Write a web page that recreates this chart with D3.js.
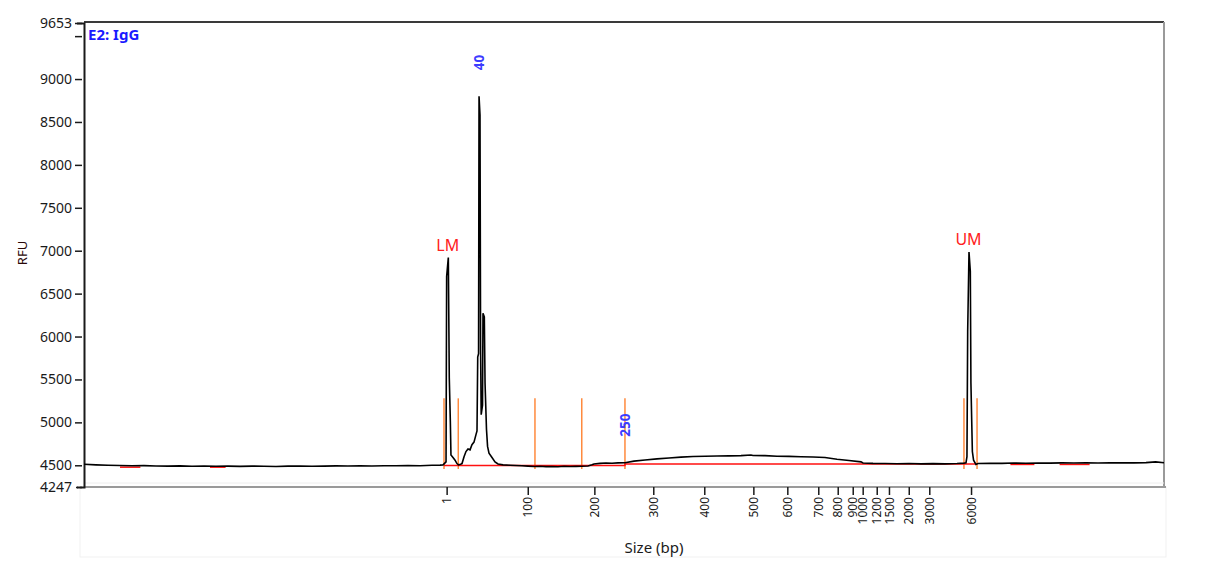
<!DOCTYPE html>
<html>
<head>
<meta charset="utf-8">
<script src="https://cdn.jsdelivr.net/npm/d3@7"></script>
<style>
  html, body { margin: 0; padding: 0; background: #fff; }
  svg text { font-family: "Noto Sans", "DejaVu Sans", sans-serif; }
</style>
</head>
<body>
<svg id="chart" width="1218" height="588"></svg>
<script>
// ---------------- DATA ----------------
const sampleTitle = "E2: IgG";

// migration time (s) of the trace samples and their fluorescence (RFU)
const traceTime = [
  0,1,2,3,4,5,6,7,8,9,10,11,12,13,14,15,16,17,18,19,20,21,22,23,24,25,26,27,28,29,
  29.67,29.92,30.17,30.22,30.36,30.44,30.53,30.58,30.75,30.92,31.08,31.21,31.33,
  31.5,31.67,31.83,32.0,32.17,32.33,32.5,32.67,32.75,32.81,32.88,32.92,33.0,33.05,33.1,
  33.21,33.25,33.36,33.42,33.54,33.63,33.75,34.0,34.25,34.5,34.92,
  35.5,36,36.5,37,37.5,38,38.5,39,39.5,40,40.5,41,41.5,42,42.33,42.5,43,43.5,44,44.5,
  45.08,45.83,46.75,47.75,48.75,49.75,50.75,51.75,52.75,53.75,54.75,55.58,55.75,56.75,
  57.75,58.75,59.75,60.75,61.75,62.75,63.75,64.75,64.92,65.75,66.75,67.75,68.75,69.75,
  70.75,71.75,72.75,73.33,
  73.5,73.58,73.64,73.75,73.86,73.91,74.03,74.13,74.33,
  74.5,75.5,76.5,77.5,78.5,79.5,80.5,81.5,82.5,83.5,84.5,85.5,86.5,87.5,88.5,89.3,90
];
const traceRFU = [
  4512,4505,4500,4498,4494,4496,4492,4490,4493,4489,4491,4488,4490,4487,4490,4489,4486,4490,4492,4489,4490,4493,4491,4494,4492,4495,4494,4497,4495,4500,
  4502,4505,4540,6700,6920,5520,5000,4620,4590,4560,4520,4505,4508,
  4520,4600,4660,4690,4680,4740,4770,4860,4900,5760,5800,8800,8580,5840,5090,
  5200,6270,6230,5460,4920,4720,4640,4590,4540,4515,4505,
  4500,4497,4494,4490,4486,4488,4484,4486,4483,4489,4485,4487,4488,4492,4505,4515,4522,4526,4524,4528,
  4530,4548,4562,4575,4585,4595,4603,4606,4608,4610,4612,4620,4614,4612,
  4606,4604,4600,4596,4590,4570,4555,4540,4527,4522,4520,4518,4520,4517,
  4519,4516,4520,4525,
  4530,4600,6060,6985,6760,5460,4660,4560,4510,
  4520,4524,4522,4526,4524,4527,4525,4528,4526,4529,4527,4528,4530,4528,4531,4540,4530
];

// sizing ladder: size labels (bp) and the migration time where each falls
const sizeTicks    = [1,100,200,300,400,500,600,700,800,900,1000,1200,1500,2000,3000,6000];
const sizeTickTime = [30.22,36.98,42.53,47.44,51.69,55.78,58.61,61.19,62.81,64.06,64.89,66.06,67.08,68.73,70.44,73.92];

// RFU axis ticks
const rfuTicks      = [4247,4500,5000,5500,6000,6500,7000,7500,8000,8500,9000,9500,9653];
const rfuTickLabels = ["4247","4500","5000","5500","6000","6500","7000","7500","8000","8500","9000","","9653"];

// peak boundary markers (orange) : times and RFU extent
const markerTimes = [30.0,31.19,37.58,41.48,45.08,73.33,74.42];
const markerRFU   = [4457,5280];

// red baseline
const baselineTime = [30.0,45.08,45.08,74.42];
const baselineRFU  = [4497,4497,4514,4514];
// small red baseline fragments elsewhere [start, end, rfu]
const redBitStart = [3.0,10.5,77.2,81.3];
const redBitEnd   = [4.7,11.8,79.2,83.8];
const redBitRFU   = [4478,4478,4510,4510];

// peak annotations
const markerNames = ["LM","UM"];
const markerPeakTime = [30.36,73.75];
const markerPeakRFU  = [6920,6985];
const sizeNames = ["40","250"];
const sizePeakTime = [32.92,45.08];
const sizePeakRFU  = [8800,4530];

const xDomain = [0,90];
const yDomain = [4247,9653];

// ---------------- CHART ----------------
const svg = d3.select("#chart");
const L = 84, R = 1164, T = 23, B = 487;
const x = d3.scaleLinear().domain(xDomain).range([L, R]);
const y = d3.scaleLinear().domain(yDomain).range([B, T]);

// faint x-axis panel
svg.append("rect").attr("x",80).attr("y",487).attr("width",1086).attr("height",70)
  .attr("fill","none").attr("stroke","#f1f1f1");

// plot frame
svg.append("line").attr("x1",L).attr("x2",R).attr("y1",22).attr("y2",22)
  .attr("stroke","#3a3a3a").attr("stroke-width",2);
svg.append("line").attr("x1",R).attr("x2",R).attr("y1",22).attr("y2",487)
  .attr("stroke","#9a9a9a").attr("stroke-width",2);
svg.append("line").attr("x1",L).attr("x2",R).attr("y1",483).attr("y2",483)
  .attr("stroke","#eeeeee").attr("stroke-width",1);
svg.append("line").attr("x1",L).attr("x2",1166).attr("y1",487).attr("y2",487)
  .attr("stroke","#9a9a9a").attr("stroke-width",2);

// y axis
const yAxis = svg.append("g").attr("transform",`translate(${L},0)`)
  .call(d3.axisLeft(y).tickValues(rfuTicks).tickSize(7).tickPadding(4)
        .tickFormat((d,i) => rfuTickLabels[i]));
yAxis.select(".domain").attr("stroke","#1a1a1a").attr("stroke-width",2);
yAxis.selectAll(".tick line").attr("stroke","#1a1a1a").attr("stroke-width",1.5)
  .attr("transform","translate(-2,0)");
yAxis.selectAll(".tick").filter(d => d === 4247).select("line").attr("stroke-dasharray","2,2");
yAxis.selectAll(".tick text").attr("font-size",14).attr("fill","#1a1a1a")
  .attr("font-family","Noto Sans").attr("x",-12);

// x axis (size ladder)
const xAxis = svg.append("g").attr("transform",`translate(0,${B})`)
  .call(d3.axisBottom(x).tickValues(sizeTickTime).tickSize(8)
        .tickFormat((d,i) => String(sizeTicks[i])));
xAxis.select(".domain").remove();
xAxis.selectAll(".tick line").attr("stroke","#1a1a1a").attr("stroke-width",1.5);
xAxis.selectAll(".tick text")
  .attr("font-size",12).attr("fill","#1a1a1a").attr("font-family","Noto Sans")
  .attr("text-anchor","end").attr("y",0).attr("dy","0.35em")
  .attr("transform","translate(0,10) rotate(-90)");

// axis titles
svg.append("text").attr("x",654).attr("y",553).attr("text-anchor","middle")
  .attr("font-size",15).attr("fill","#1a1a1a").text("Size (bp)");
svg.append("text").attr("transform","translate(22,253) rotate(-90)")
  .attr("text-anchor","middle").attr("dy","0.35em")
  .attr("font-size",13).attr("fill","#2a0808").text("RFU");

// orange peak boundary markers
svg.append("g").selectAll("line").data(markerTimes).join("line")
  .attr("x1",d => x(d)).attr("x2",d => x(d))
  .attr("y1",y(markerRFU[0])).attr("y2",y(markerRFU[1]))
  .attr("stroke","#ff8a3d").attr("stroke-width",1.5);

// red baseline
const line = d3.line().x(d => x(d[0])).y(d => y(d[1]));
svg.append("path").datum(d3.zip(baselineTime, baselineRFU))
  .attr("d", line).attr("fill","none").attr("stroke","#ff1010").attr("stroke-width",1.5);
svg.append("g").selectAll("line").data(d3.range(redBitStart.length)).join("line")
  .attr("x1",i => x(redBitStart[i])).attr("x2",i => x(redBitEnd[i]))
  .attr("y1",i => y(redBitRFU[i])).attr("y2",i => y(redBitRFU[i]))
  .attr("stroke","#ff1010").attr("stroke-width",1.5);

// trace
svg.append("path").datum(d3.zip(traceTime, traceRFU))
  .attr("d", line).attr("fill","none").attr("stroke","#000")
  .attr("stroke-width",1.6).attr("stroke-linejoin","miter");

// marker labels
svg.append("g").selectAll("text").data(markerNames).join("text")
  .attr("x",(d,i) => x(markerPeakTime[i]) - 0.5)
  .attr("y",(d,i) => y(markerPeakRFU[i]) - 7)
  .attr("text-anchor","middle").attr("font-size",16).attr("fill","#ff2020")
  .text(d => d);

// size labels (rotated, blue)
svg.append("g").selectAll("text").data(sizeNames).join("text")
  .attr("transform",(d,i) => `translate(${x(sizePeakTime[i])},${y(sizePeakRFU[i]) - 26}) rotate(-90)`)
  .attr("text-anchor","start").attr("dy","0.35em")
  .attr("font-size",13.5).attr("font-weight","bold").attr("fill","#3c3cff")
  .text(d => d);

// sample title
svg.append("text").attr("x",88).attr("y",40).attr("font-size",15)
  .attr("font-weight","bold").attr("fill","#1a1aff").text(sampleTitle);
</script>
</body>
</html>
